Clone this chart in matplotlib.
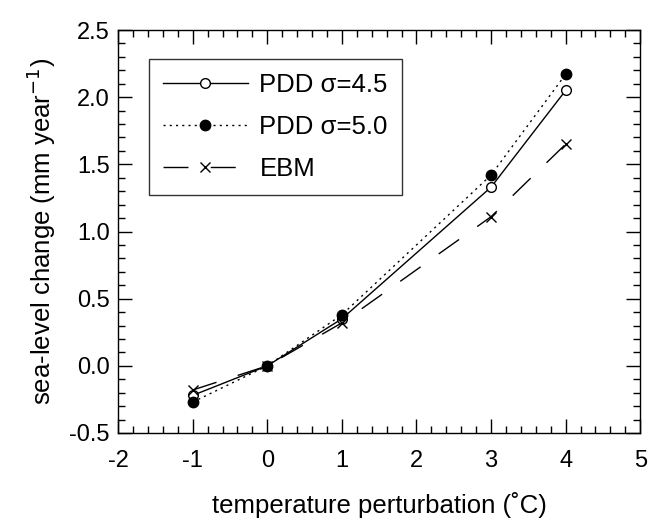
import numpy as np
import matplotlib.pyplot as plt
from matplotlib.ticker import MultipleLocator

plt.rcParams['font.family'] = ['Liberation Sans', 'DejaVu Sans']
plt.rcParams['axes.unicode_minus'] = False

temp = [-1, 0, 1, 3, 4]
pdd45 = [-0.22, 0.0, 0.35, 1.33, 2.05]
pdd50 = [-0.27, 0.0, 0.38, 1.42, 2.17]
ebm = [-0.18, 0.0, 0.32, 1.11, 1.65]

fig = plt.figure(figsize=(6.6, 5.22), dpi=100)
ax = fig.add_axes([0.179, 0.1705, 0.791, 0.772])

ax.plot(temp, pdd45, color='black', lw=1.0, marker='o', ms=7,
        mfc='white', mec='black', mew=1.0, label='PDD σ=4.5')
ax.plot(temp, pdd50, color='black', lw=1.0, ls=(0, (1.5, 3)), marker='o', ms=7.5,
        mfc='black', mec='black', label='PDD σ=5.0')
ax.plot(temp, ebm, color='black', lw=1.0, ls=(0, (18, 16)), marker='x', ms=7.5,
        mew=1.0, label='EBM')

ax.set_xlim(-2, 5)
ax.set_ylim(-0.5, 2.5)
ax.xaxis.set_major_locator(MultipleLocator(1))
ax.xaxis.set_minor_locator(MultipleLocator(0.2))
ax.yaxis.set_major_locator(MultipleLocator(0.5))
ax.yaxis.set_minor_locator(MultipleLocator(0.1))
ax.yaxis.set_major_formatter(plt.FormatStrFormatter('%.1f'))
ax.tick_params(which='both', direction='in', top=True, right=True,
               labelsize=17, width=1.0)
ax.tick_params(which='major', length=10)
ax.tick_params(which='minor', length=5)
ax.tick_params(axis='x', which='major', pad=12)
ax.tick_params(axis='y', which='major', pad=6)
for s in ax.spines.values():
    s.set_linewidth(1.0)

ax.set_xlabel('temperature perturbation (˚C)', fontsize=18.5, labelpad=15)
ax.set_ylabel('sea-level change (mm year$^{-1}$)', fontsize=18.5, labelpad=8)

leg = ax.legend(loc='upper left', bbox_to_anchor=(0.059, 0.928), borderaxespad=0,
                fontsize=18.5, handlelength=3.3, handletextpad=0.45,
                frameon=True, fancybox=False, edgecolor='black',
                borderpad=0.55, labelspacing=0.7)
leg.get_frame().set_linewidth(1.0)

fig.savefig('out.png', dpi=100)
